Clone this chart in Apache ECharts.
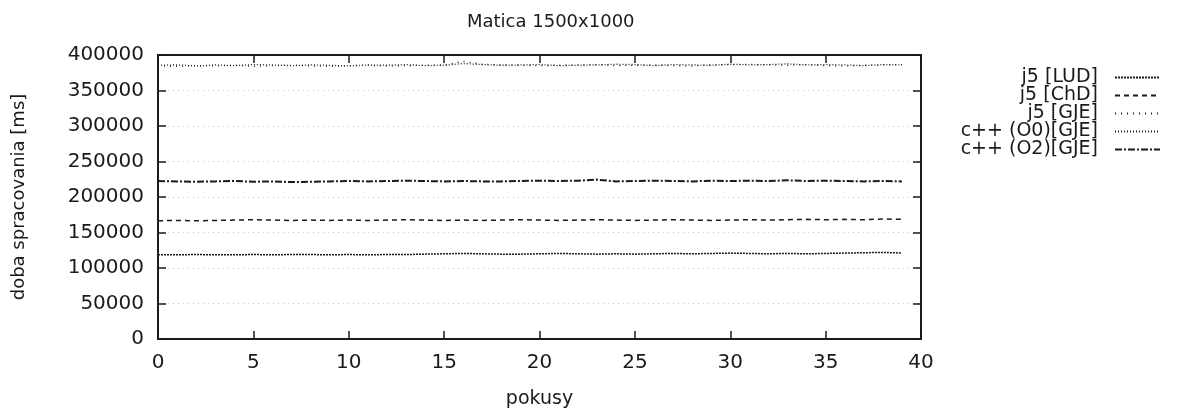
<!DOCTYPE html>
<html>
<head>
<meta charset="utf-8">
<title>Matica 1500x1000</title>
<script src="https://cdn.jsdelivr.net/npm/echarts@6/dist/echarts.min.js"></script>
<style>
html, body { margin: 0; padding: 0; background: #fff; }
#chartMain { width: 1183px; height: 417px; }
</style>
</head>
<body>
<div id="chartMain"></div>
<script>
// pokusy (x)
var runs = [];
for (var r = 0; r < 40; r++) runs.push(r);

var xTicks = [0, 5, 10, 15, 20, 25, 30, 35, 40];
var yTicks = [0, 50000, 100000, 150000, 200000, 250000, 300000, 350000, 400000];

var seriesNames = ['j5 [LUD]', 'j5 [ChD]', 'j5 [GJE]', 'c++ (O0)[GJE]', 'c++ (O2)[GJE]'];

// doba spracovania [ms]
var j5LUD = [118500, 118500, 119000, 118500, 118500, 119000, 118500, 119000, 119000, 118500,
	119000, 118500, 119000, 119000, 119500, 120000, 120500, 120000, 119500, 119500,
	120000, 120500, 120000, 119500, 120000, 119500, 120000, 120500, 120000, 120500,
	121000, 120500, 120000, 120500, 120000, 120500, 121000, 121500, 122000, 121000];
var j5ChD = [166500, 167000, 166500, 167000, 167500, 168000, 167500, 167000, 167500, 167000,
	167500, 167000, 167500, 168000, 167500, 167000, 167500, 167000, 167500, 168000,
	167500, 167000, 167500, 168000, 167500, 167000, 167500, 168000, 167500, 167000,
	167500, 168000, 167500, 168000, 168500, 168000, 168500, 168000, 169000, 168500];
var j5GJE = [384500, 384000, 385000, 384500, 385500, 384000, 385000, 385500, 384500, 384000,
	385000, 385500, 384500, 385000, 385500, 386000, 391000, 387000, 386000, 385500,
	385000, 385500, 386000, 386500, 385000, 385500, 386000, 385000, 384500, 386000,
	386500, 387000, 386000, 385500, 386500, 385000, 384500, 385500, 386000, 386500];
var cppO0GJE = [385500, 386000, 384500, 386000, 385000, 386500, 386000, 385000, 386000, 385500,
	384500, 386000, 385500, 386500, 385000, 385500, 388000, 386500, 385500, 386000,
	386500, 385000, 385500, 386000, 387000, 386500, 385000, 386500, 386000, 385500,
	387000, 386000, 386500, 387500, 386000, 386500, 386000, 385000, 386500, 386000];
var cppO2GJE = [222500, 222000, 221500, 222000, 222500, 221500, 222000, 221000, 221500, 222000,
	222500, 222000, 222500, 223000, 222500, 222000, 222500, 222000, 222000, 222500,
	223000, 222500, 223000, 224500, 222000, 222500, 223000, 222500, 222000, 223000,
	222500, 223000, 222500, 223500, 222500, 223000, 222500, 222000, 222500, 222000];

var seriesData = [j5LUD, j5ChD, j5GJE, cppO0GJE, cppO2GJE];
var dashes = [[2, 1], [5, 4], [1, 5], [1, 2], [7, 2, 2, 2]];
var widths = [1.5, 1.5, 1.3, 1.3, 2];

var fontFamily = 'DejaVu Sans';
var ink = '#1a1a1a';

function pairs(values) {
	return values.map(function(v, i) { return [runs[i], v]; });
}

var series = seriesNames.map(function(name, i) {
	return {
		name: name,
		type: 'line',
		xAxisIndex: 0,
		yAxisIndex: 0,
		showSymbol: false,
		symbol: 'none',
		animation: false,
		lineStyle: { color: ink, width: widths[i], type: dashes[i] },
		itemStyle: { color: ink, opacity: 0 },
		data: pairs(seriesData[i])
	};
});

var xStep = xTicks[1] - xTicks[0];
var yStep = yTicks[1] - yTicks[0];

function boxAxis(base) {
	// gnuplot style: ticks inside, on all four sides
	base.axisLine = { show: true, onZero: false, lineStyle: { color: ink, width: 2 } };
	base.axisTick = { show: true, inside: true, length: 8, lineStyle: { color: ink, width: 1.5 } };
	return base;
}

var option = {
	animation: false,
	backgroundColor: '#fff',
	title: {
		text: 'Matica 1500x1000',
		left: 462,
		top: 8,
		textStyle: { fontFamily: fontFamily, fontSize: 18, fontWeight: 'normal', color: ink }
	},
	legend: {
		orient: 'vertical',
		right: 17,
		top: 63,
		align: 'right',
		itemWidth: 45,
		itemHeight: 12,
		itemGap: -1,
		data: seriesNames,
		itemStyle: { opacity: 0 },
		textStyle: { fontFamily: fontFamily, fontSize: 19, color: ink, lineHeight: 17, padding: [0, 12, 0, 0] }
	},
	grid: { left: 158, right: 262, top: 55, bottom: 78 },
	xAxis: [boxAxis({
		type: 'value',
		min: xTicks[0],
		max: xTicks[xTicks.length - 1],
		interval: xStep,
		name: 'pokusy',
		nameLocation: 'middle',
		nameGap: 51,
		nameTextStyle: { fontFamily: fontFamily, fontSize: 19, color: ink },
		axisLabel: { margin: 14, fontFamily: fontFamily, fontSize: 20, color: ink },
		splitLine: { show: false }
	}), boxAxis({
		type: 'value',
		position: 'top',
		min: xTicks[0],
		max: xTicks[xTicks.length - 1],
		interval: xStep,
		axisLabel: { show: false },
		splitLine: { show: false }
	})],
	yAxis: [boxAxis({
		type: 'value',
		min: yTicks[0],
		max: yTicks[yTicks.length - 1],
		interval: yStep,
		name: 'doba spracovania [ms]',
		nameLocation: 'middle',
		nameGap: 130,
		nameTextStyle: { fontFamily: fontFamily, fontSize: 18, color: ink },
		axisLabel: {
			margin: 14, fontFamily: fontFamily, fontSize: 20, color: ink,
			formatter: function(v) { return String(v); }
		},
		splitLine: { show: true, lineStyle: { color: '#c4c4c4', width: 1, type: [1, 4] } }
	}), boxAxis({
		type: 'value',
		position: 'right',
		min: yTicks[0],
		max: yTicks[yTicks.length - 1],
		interval: yStep,
		axisLabel: { show: false },
		splitLine: { show: false }
	})],
	series: series
};

var myChart = echarts.init(document.getElementById('chartMain'));
myChart.setOption(option);
</script>
</body>
</html>
